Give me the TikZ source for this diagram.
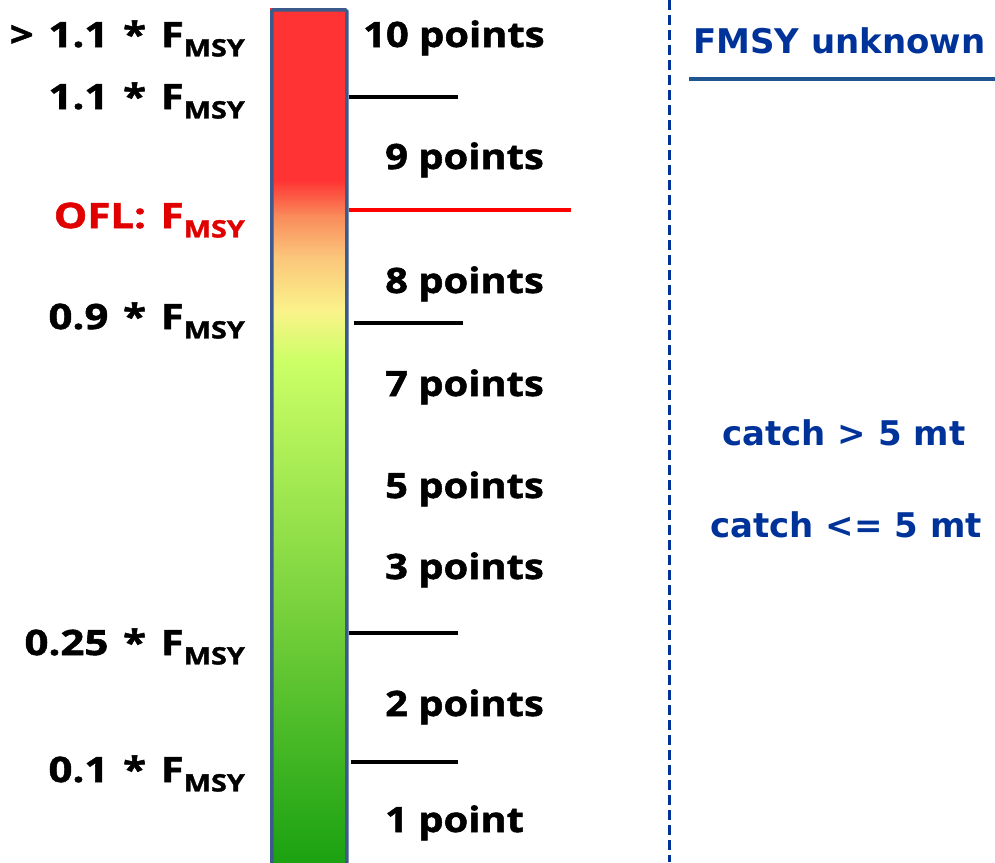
\documentclass[tikz,border=0pt]{standalone}
\usepackage{fontspec}
\setmainfont{Open Sans}[FakeStretch=1.14, BoldFeatures={FakeBold=1.5}]
\newfontfamily\leftface{Open Sans}[FakeStretch=1.2, WordSpace=1.35, BoldFeatures={FakeBold=1.5}]
\newfontfamily\blueface{DejaVu Sans}
\definecolor{lblred}{HTML}{E00000}
\definecolor{lblblue}{HTML}{00339A}
\definecolor{ulblue}{HTML}{1F5591}
\definecolor{barframe}{HTML}{3C5A8C}
\definecolor{cR}{HTML}{FF3333}
\definecolor{cO}{HTML}{F98A5A}
\definecolor{cP}{HTML}{FBC47A}
\definecolor{cY}{HTML}{FBF38A}
\definecolor{cL}{HTML}{CCFF66}
\definecolor{cG}{HTML}{7BD33E}
\definecolor{cD}{HTML}{18A010}
\newcommand\fmsy{F\raisebox{-0.27em}{\fontsize{24}{24}\selectfont MSY}}
\tikzset{
  lft/.style={anchor=base east, font=\leftface\fontsize{35}{35}\selectfont\bfseries, inner sep=0pt},
  rgt/.style={anchor=base west, font=\fontsize{35}{35}\selectfont\bfseries, inner sep=0pt},
  blu/.style={anchor=base west, text=lblblue, font=\blueface\fontsize{34}{34}\selectfont\bfseries, inner sep=0pt},
  tick/.style={line width=3.5pt, black},
}
\begin{document}
\begin{tikzpicture}[x=1pt,y=-1pt]
\useasboundingbox (0,0) rectangle (995,862);
\clip (0,0) rectangle (995,862);
% bar shading
\fill[cR] (270,8) rectangle (345,181);
\shade[top color=cR, bottom color=cO] (270,180) rectangle (345,216);
\shade[top color=cO, bottom color=cP] (270,215) rectangle (345,256);
\shade[top color=cP, bottom color=cY] (270,255) rectangle (345,311);
\shade[top color=cY, bottom color=cL] (270,310) rectangle (345,361);
\shade[top color=cL, bottom color=cG] (270,360) rectangle (345,601);
\shade[top color=cG, bottom color=cD] (270,600) rectangle (345,870);
\node (bar) [draw=barframe, line width=3.5pt, rounded corners=1.5pt, minimum width=75pt, minimum height=862pt, anchor=north west, inner sep=0pt] at (270,8) {};
% tick ends
\coordinate (t1) at (458,97);
\coordinate (tO) at (571,210);
\coordinate (t09) at (463,323);
\coordinate (t025) at (458,633);
\coordinate (t01) at (458,762);
\draw[tick] (bar.east |- t1) -- (t1);
\draw[line width=3.5pt, red] (bar.east |- tO) -- (tO);
\draw[tick] ([xshift=5pt]bar.east |- t09) -- (t09);
\draw[tick] (bar.east |- t025) -- (t025);
\draw[tick] ([xshift=2pt]bar.east |- t01) -- (t01);
% left labels
\node[lft] (l1) at (245,47) {> 1.1 * \fmsy};
\node[lft] (l2) at (245,109) {1.1 * \fmsy};
\node[lft, text=lblred] (l3) at (245,228) {OFL: \fmsy};
\node[lft] (l4) at (245,329) {0.9 * \fmsy};
\node[lft] (l5) at (245,655) {0.25 * \fmsy};
\node[lft] (l6) at (245,782) {0.1 * \fmsy};
% right labels
\node[rgt] (r10) at (363,47) {10 points};
\node[rgt] (r9) at (385,169) {9 points};
\node[rgt] (r8) at (385,293) {8 points};
\node[rgt] (r7) at (385,396) {7 points};
\node[rgt] (r5) at (385,498) {5 points};
\node[rgt] (r3) at (385,579) {3 points};
\node[rgt] (r2) at (385,716) {2 points};
\node[rgt] (r1) at (385,832) {1 point};
% divider
\coordinate (dtop) at (669,0);
\coordinate (dbot) at (669,862);
\draw[lblblue, line width=3pt, dash pattern=on 10pt off 5pt] (dtop) -- (dbot);
% right panel
\node[blu] (fu) at (693,53) {FMSY unknown};
\coordinate (ul1) at (689,79);
\coordinate (ul2) at (995,79);
\draw[ulblue, line width=4.5pt] (ul1) -- (ul2);
\node[blu] (c1) at (722,445) {catch > 5 mt};
\node[blu] (c2) at (710,537) {catch <= 5 mt};
\end{tikzpicture}
\end{document}
